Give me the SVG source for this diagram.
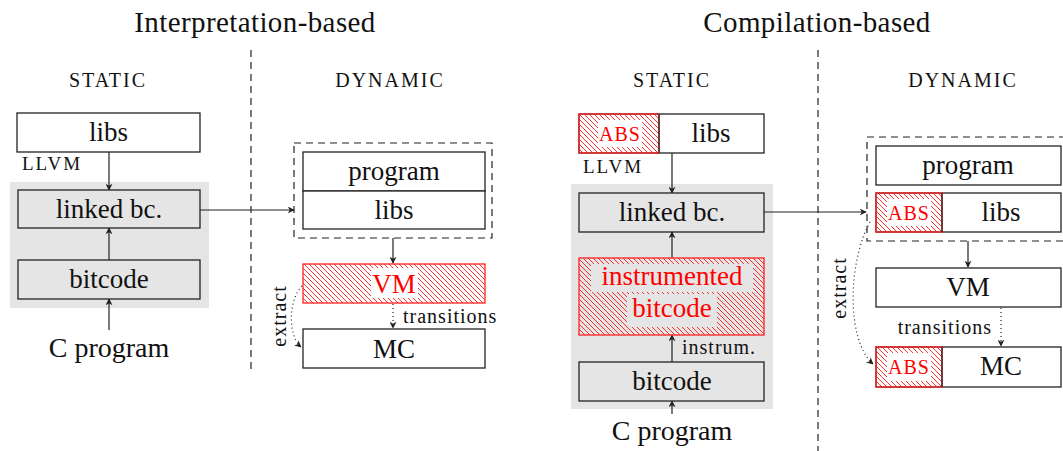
<svg xmlns="http://www.w3.org/2000/svg" width="1063" height="451" viewBox="0 0 1063 451">
<style>
text{font-family:"Liberation Serif","Times New Roman",serif;fill:#111}
.title{font-size:29px;letter-spacing:0.4px}
.sc{font-size:20px;letter-spacing:2px}
.lbl{font-size:27px}
.small{font-size:20px;letter-spacing:1px}
.red{fill:#ff0000}
.box{fill:#fff;stroke:#222;stroke-width:1.3}
.gbox{fill:#e5e5e5;stroke:#222;stroke-width:1.3}
.hatch{fill:url(#hatch);stroke:#ff2020;stroke-width:1.3}
.area{fill:#e5e5e5}
.sep{stroke:#222;stroke-width:1.2;stroke-dasharray:7,5;fill:none}
.arr{stroke:#222;stroke-width:1.2;fill:none;marker-end:url(#ah)}
.dot{stroke:#222;stroke-width:1.2;fill:none;stroke-dasharray:1,3;marker-end:url(#ah)}
.wbg{fill:#fff}
.gbg{fill:#e5e5e5}
</style>
<defs>
<pattern id="hatch" patternUnits="userSpaceOnUse" width="5" height="5">
<path d="M-1,-1 L6,6 M-1,4 L1,6 M4,-1 L6,1" stroke="#ff0000" stroke-width="0.8"/>
</pattern>
<marker id="ah" viewBox="0 0 10 10" refX="9" refY="5" markerWidth="7" markerHeight="7" orient="auto" markerUnits="userSpaceOnUse">
<path d="M0,0 L10,5 L0,10 L3,5 Z" fill="#222"/>
</marker>
</defs>
<rect width="1063" height="451" fill="#fff"/>

<g id="headings">
<text class="title" x="255" y="32" text-anchor="middle">Interpretation-based</text>
<text class="title" x="817" y="32" text-anchor="middle">Compilation-based</text>
<text class="sc" x="108" y="87" text-anchor="middle">STATIC</text>
<text class="sc" x="390" y="87" text-anchor="middle">DYNAMIC</text>
<text class="sc" x="672" y="87" text-anchor="middle">STATIC</text>
<text class="sc" x="963" y="87" text-anchor="middle">DYNAMIC</text>
</g>

<g id="separators">
<line class="sep" x1="251" y1="50" x2="251" y2="374"/>
<line class="sep" x1="818" y1="50" x2="818" y2="451"/>
</g>

<rect class="area" x="10" y="182" width="199" height="126"/>
<rect class="area" x="571" y="184" width="202" height="225"/>

<g id="connectors">
<line class="arr" x1="109" y1="152" x2="109" y2="190"/>
<line class="arr" x1="109" y1="260" x2="109" y2="228"/>
<line class="arr" x1="109" y1="330" x2="109" y2="299"/>
<line class="arr" x1="200" y1="210" x2="294" y2="210"/>
<line class="arr" x1="393" y1="238" x2="393" y2="263"/>
<line class="dot" x1="393" y1="304" x2="393" y2="328"/>
<path class="dot" d="M302,286 C288,300 288,336 301,347"/>
<text class="small" x="403" y="323">transitions</text>
<text class="small" transform="translate(286,316) rotate(-90)" text-anchor="middle">extract</text>

<line class="arr" x1="672" y1="153" x2="672" y2="193"/>
<line class="arr" x1="672" y1="258" x2="672" y2="232"/>
<line class="arr" x1="672" y1="362" x2="672" y2="335"/>
<line class="arr" x1="672" y1="414" x2="672" y2="401"/>
<text class="small" x="682" y="354">instrum.</text>
<line class="arr" x1="764" y1="212" x2="866" y2="212"/>
<line class="arr" x1="968" y1="241" x2="968" y2="267"/>
<line class="dot" x1="1001" y1="308" x2="1001" y2="346"/>
<text class="small" x="992" y="334" text-anchor="end">transitions</text>
<path class="dot" d="M870,222 C848,262 846,340 873,364"/>
<text class="small" transform="translate(846,288) rotate(-90)" text-anchor="middle">extract</text>
</g>

<g id="i-libs"><rect class="box" x="17" y="113" width="183" height="39"/><text class="lbl" x="108.5" y="141" text-anchor="middle">libs</text></g>
<text class="sc" x="22" y="170" style="font-size:19px">LLVM</text>
<g id="i-linked"><rect class="gbox" x="18" y="190" width="182" height="38"/><text class="lbl" x="109" y="218" text-anchor="middle">linked bc.</text></g>
<g id="i-bitcode"><rect class="gbox" x="18" y="260" width="182" height="39"/><text class="lbl" x="109" y="288" text-anchor="middle">bitcode</text></g>
<g id="i-cprog"><text class="lbl" x="109" y="357" text-anchor="middle" style="font-size:28px">C program</text></g>
<g id="i-dyn">
<rect class="sep" x="294" y="143" width="198" height="95"/>
<rect class="box" x="303" y="152" width="182" height="39"/><text class="lbl" x="394" y="180" text-anchor="middle">program</text>
<rect class="box" x="303" y="191" width="182" height="38"/><text class="lbl" x="394" y="219" text-anchor="middle">libs</text>
</g>
<g id="i-vm"><rect class="hatch" x="303" y="264" width="182" height="39"/><rect class="wbg" x="371" y="268" width="47" height="30"/><text class="lbl red" x="394" y="293" text-anchor="middle">VM</text></g>
<g id="i-mc"><rect class="box" x="303" y="329" width="182" height="39"/><text class="lbl" x="394" y="358" text-anchor="middle">MC</text></g>

<g id="c-libs">
<rect class="box" x="579" y="114" width="185" height="39"/>
<rect class="hatch" x="579" y="114" width="80" height="39"/>
<rect class="wbg" x="598" y="120" width="44" height="27"/>
<line x1="659" y1="114" x2="659" y2="153" stroke="#222" stroke-width="1.3"/>
<text class="sc red" x="620" y="141" text-anchor="middle" style="font-size:20px;letter-spacing:1px">ABS</text>
<text class="lbl" x="711" y="142" text-anchor="middle">libs</text>
</g>
<text class="sc" x="583" y="173" style="font-size:19px">LLVM</text>
<g id="c-linked"><rect class="gbox" x="579" y="193" width="185" height="39"/><text class="lbl" x="672" y="221" text-anchor="middle">linked bc.</text></g>
<g id="c-instr"><rect class="hatch" x="579" y="258" width="185" height="77"/>
<rect class="gbg" x="591" y="264" width="162" height="28"/>
<rect class="gbg" x="627" y="294" width="90" height="33"/>
<text class="lbl red" x="672" y="285" text-anchor="middle">instrumented</text>
<text class="lbl red" x="672" y="317" text-anchor="middle">bitcode</text></g>
<g id="c-bitcode"><rect class="gbox" x="579" y="362" width="185" height="39"/><text class="lbl" x="672" y="390" text-anchor="middle">bitcode</text></g>
<g id="c-cprog"><text class="lbl" x="672" y="440" text-anchor="middle" style="font-size:28px">C program</text></g>
<g id="c-dyn">
<path class="sep" d="M1066,137 L867,137 L867,241 L1066,241"/>
<rect class="box" x="876" y="146" width="185" height="39"/><text class="lbl" x="968" y="174" text-anchor="middle">program</text>
<rect class="box" x="876" y="193" width="185" height="39"/>
<rect class="hatch" x="876" y="193" width="66" height="39"/>
<rect class="wbg" x="887" y="199" width="44" height="27"/>
<line x1="942" y1="193" x2="942" y2="232" stroke="#222" stroke-width="1.3"/>
<text class="sc red" x="909" y="220" text-anchor="middle" style="font-size:20px;letter-spacing:1px">ABS</text>
<text class="lbl" x="1001" y="221" text-anchor="middle">libs</text>
</g>
<g id="c-vm"><rect class="box" x="876" y="268" width="185" height="39"/><text class="lbl" x="968" y="296" text-anchor="middle">VM</text></g>
<g id="c-mc">
<rect class="box" x="876" y="347" width="185" height="40"/>
<rect class="hatch" x="876" y="347" width="66" height="40"/>
<rect class="wbg" x="887" y="353" width="44" height="28"/>
<line x1="942" y1="347" x2="942" y2="387" stroke="#222" stroke-width="1.3"/>
<text class="sc red" x="909" y="374" text-anchor="middle" style="font-size:20px;letter-spacing:1px">ABS</text>
<text class="lbl" x="1001" y="375" text-anchor="middle">MC</text>
</g>
</svg>
